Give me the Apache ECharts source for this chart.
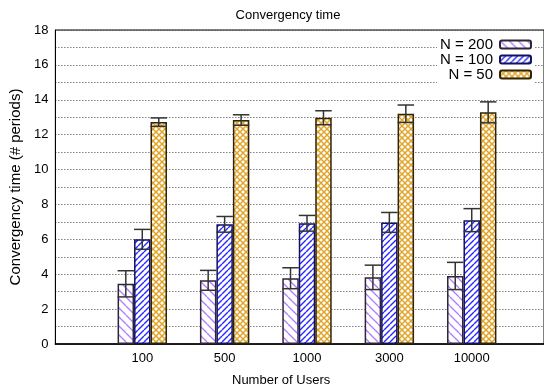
<!DOCTYPE html>
<html>
<head>
<meta charset="utf-8">
<script src="https://cdn.jsdelivr.net/npm/echarts@6/dist/echarts.min.js"></script>
<style>
  html, body { margin: 0; padding: 0; background: #fff; }
  #chart { width: 544px; height: 389px; }
</style>
</head>
<body>
<div id="chart"></div>
<script>
// Categories and measured values (mean and error half-width)
const users = ['100', '500', '1000', '3000', '10000'];
const seriesNames = ['N = 200', 'N = 100', 'N = 50'];
const n200 = [3.45, 3.65, 3.77, 3.82, 3.90];
const err200 = [0.75, 0.57, 0.60, 0.70, 0.78];
const n100 = [6.00, 6.86, 6.92, 6.97, 7.10];
const err100 = [0.57, 0.45, 0.45, 0.57, 0.66];
const n50 = [12.72, 12.84, 12.97, 13.20, 13.28];
const err50 = [0.24, 0.30, 0.40, 0.50, 0.60];
const yTicks = [0, 2, 4, 6, 8, 10, 12, 14, 16, 18];

const FONT = "'Liberation Sans', Arial, Helvetica, sans-serif";

// Hatch fills: white tile with diagonal strokes
function hatch(size, color, width, dirs) {
  const c = document.createElement('canvas');
  c.width = size; c.height = size;
  const g = c.getContext('2d');
  g.fillStyle = '#fff';
  g.fillRect(0, 0, size, size);
  g.strokeStyle = color;
  g.lineWidth = width;
  for (const d of dirs) {
    for (let k = -1; k <= 1; k++) {
      g.beginPath();
      if (d === 'back') { g.moveTo(k * size, 0); g.lineTo(k * size + size, size); }
      else { g.moveTo(k * size, size); g.lineTo(k * size + size, 0); }
      g.stroke();
    }
  }
  return { image: c, repeat: 'repeat' };
}

const fills = [
  hatch(9, '#b07cff', 1.3, ['back']),
  hatch(6, '#2a2aff', 1.4, ['fwd']),
  hatch(6, '#e2a42a', 1.5, ['back', 'fwd'])
];
const borders = ['#2e2636', '#12125e', '#2e2408'];
const values = [n200, n100, n50];
const errors = [err200, err100, err50];
const BAR_FRAC = 0.2;

const barSeries = values.map((vals, j) => ({
  name: seriesNames[j],
  type: 'bar',
  xAxisIndex: 1,
  yAxisIndex: 1,
  data: vals,
  barWidth: (BAR_FRAC * 100) + '%',
  barGap: '0%',
  itemStyle: { color: fills[j], borderColor: borders[j], borderWidth: 1.5 },
  emphasis: { disabled: true },
  z: 3
}));

const errSeries = values.map((vals, j) => ({
  name: 'err' + j,
  type: 'custom',
  xAxisIndex: 1,
  yAxisIndex: 1,
  z: 5,
  silent: true,
  data: vals.map((v, i) => [i, v - errors[j][i], v + errors[j][i]]),
  renderItem(params, api) {
    const band = api.size([1, 0])[0];
    const bw = band * BAR_FRAC;
    const off = (j - 1) * bw;
    const lo = api.coord([api.value(0), api.value(1)]);
    const hi = api.coord([api.value(0), api.value(2)]);
    const x = lo[0] + off;
    const h = bw / 2;
    const st = { stroke: '#333', lineWidth: 1.5 };
    return {
      type: 'group',
      children: [
        { type: 'line', shape: { x1: x, y1: lo[1], x2: x, y2: hi[1] }, style: st },
        { type: 'line', shape: { x1: x - h, y1: hi[1], x2: x + h, y2: hi[1] }, style: st },
        { type: 'line', shape: { x1: x - h, y1: lo[1], x2: x + h, y2: lo[1] }, style: st }
      ]
    };
  }
}));

const chart = echarts.init(document.getElementById('chart'), null, { renderer: 'canvas' });
chart.setOption({
  animation: false,
  backgroundColor: '#fff',
  textStyle: { fontFamily: FONT, color: '#000' },
  title: {
    text: 'Convergency time',
    left: 283,
    textAlign: 'center',
    top: 4,
    textStyle: { fontFamily: FONT, fontSize: 13, fontWeight: 'normal', color: '#000' }
  },
  legend: {
    data: seriesNames,
    orient: 'vertical',
    right: 9,
    top: 36,
    align: 'right',
    itemWidth: 31,
    itemHeight: 8,
    itemGap: 0,
    padding: [1, 3, 1, 3],
    backgroundColor: '#fff',
    selectedMode: false,
    textStyle: { fontFamily: FONT, fontSize: 15, lineHeight: 14, color: '#000', padding: [0, 2, 0, 0] }
  },
  grid: [
    { left: 52, right: -10, top: 30, bottom: 45, show: true, borderColor: '#000', borderWidth: 1, backgroundColor: 'transparent' },
    { left: 101.1, width: 411.8, top: 30, bottom: 45 }
  ],
  xAxis: [
    {
      type: 'value', gridIndex: 0, min: 0, max: 1,
      axisLine: { show: true, onZero: false, lineStyle: { color: '#000', width: 1.6 } },
      axisTick: { show: false }, axisLabel: { show: false }, splitLine: { show: false }
    },
    {
      type: 'category', gridIndex: 1, data: users,
      axisLine: { show: false }, axisTick: { show: false },
      axisLabel: { fontFamily: FONT, fontSize: 13, color: '#000', margin: 8 }
    }
  ],
  yAxis: [
    {
      type: 'value', gridIndex: 0, min: 0, max: 18, interval: 1,
      axisLine: { show: true, lineStyle: { color: '#000', width: 1 } },
      axisTick: { show: false },
      axisLabel: {
        fontFamily: FONT, fontSize: 13, color: '#000', margin: 7,
        formatter: v => (yTicks.indexOf(v) >= 0 ? String(v) : '')
      },
      splitLine: { show: true, lineStyle: { color: '#444', width: 1, type: [1, 2] } },
      name: 'Convergency time (# periods)', nameLocation: 'middle', nameGap: 30,
      nameTextStyle: { fontFamily: FONT, fontSize: 15, color: '#000' }
    },
    {
      type: 'value', gridIndex: 1, min: 0, max: 18, interval: 1, show: false
    }
  ],
  graphic: [
    {
      type: 'text', left: 232, top: 374,
      style: { text: 'Number of Users', fontFamily: FONT, fontSize: 13, fill: '#000' }
    }
  ],
  series: barSeries.concat(errSeries)
});
</script>
</body>
</html>
